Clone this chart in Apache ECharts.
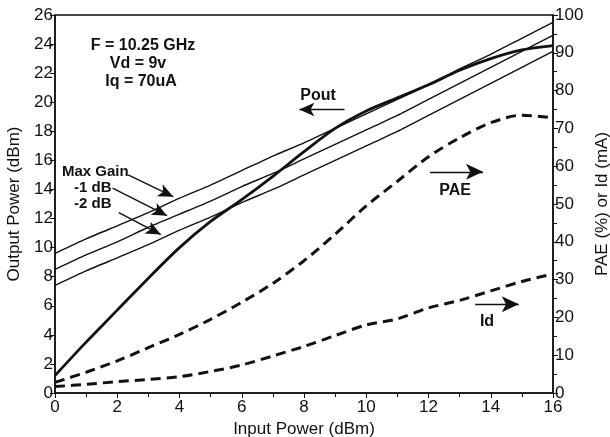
<!DOCTYPE html>
<html>
<head>
<meta charset="UTF-8">
<title>Pout / PAE vs Input Power</title>
<script src="https://cdn.jsdelivr.net/npm/echarts@6/dist/echarts.min.js"></script>
</head>
<body style="margin:0">
<div id="main" style="width:610px;height:437px;"></div>
<script>
// input power (dBm)
var inputPower = [0,1,2,3,4,5,6,7,8,9,10,11,12,13,14,15,16];
// output power (dBm), left axis
var pout     = [1.2,3.5,5.7,7.9,10.0,11.8,13.3,14.9,16.6,18.2,19.4,20.3,21.2,22.2,23.0,23.6,23.9];
var maxGain  = [9.6,10.6,11.5,12.4,13.4,14.3,15.3,16.3,17.2,18.2,19.2,20.2,21.2,22.3,23.3,24.4,25.5];
var gain1dB  = [8.5,9.5,10.4,11.4,12.3,13.2,14.2,15.1,16.1,17.1,18.1,19.1,20.2,21.3,22.4,23.5,24.6];
var gain2dB  = [7.4,8.4,9.3,10.2,11.2,12.1,13.1,14.0,15.0,16.0,17.0,18.0,19.1,20.2,21.3,22.4,23.5];
// PAE (%) and Id (mA), right axis
var pae = [2.8,5.5,8.5,12.0,15.5,19.5,24.0,29.0,35.0,42.0,49.5,56.0,62.5,67.5,71.5,73.5,72.8];
var id  = [1.7,2.3,3.0,3.6,4.3,5.7,7.4,9.8,12.3,15.2,18.0,19.6,22.5,24.5,27.0,29.5,31.5];
var leftTicks = [0,26,2];
var rightTicks = [0,100,10];

function pairs(ys){
  var out = [];
  for (var i = 0; i < inputPower.length; i++) out.push([inputPower[i], ys[i]]);
  return out;
}

var font = 'Liberation Sans, Arial, sans-serif';
var black = '#111';

function arrow(x1,y1,x2,y2){
  return [{coord:[x1,y1]},{coord:[x2,y2]}];
}
function note(txt,x,y,size,align){
  return {type:'text', x:x, y:y, style:{text:txt, font:'bold ' + size + 'px ' + font,
          fill:black, align:align || 'center', verticalAlign:'middle'}};
}

var chart = echarts.init(document.getElementById('main'));
var option = {
  animation: false,
  grid: {left:55, right:57, top:15, bottom:44, containLabel:false, outerBoundsMode:'none',
         show:true, borderColor:black, borderWidth:1.5},
  xAxis: {
    type:'value', min:0, max:16, interval:2,
    name:'Input Power (dBm)', nameLocation:'middle', nameGap:28,
    nameTextStyle:{fontFamily:font, fontSize:17, color:black},
    axisLine:{lineStyle:{color:black, width:1.5}},
    axisTick:{length:5, lineStyle:{color:black}},
    minorTick:{show:true, splitNumber:2, length:4, lineStyle:{color:black}},
    axisLabel:{fontFamily:font, fontSize:17, color:black, margin:6},
    splitLine:{show:false}
  },
  yAxis: [{
    type:'value', min:leftTicks[0], max:leftTicks[1], interval:leftTicks[2],
    name:'Output Power (dBm)', nameLocation:'middle', nameGap:28, nameRotate:90,
    nameTextStyle:{fontFamily:font, fontSize:17, color:black},
    axisLine:{show:true, lineStyle:{color:black, width:1.5}},
    axisTick:{length:5, lineStyle:{color:black}},
    axisLabel:{fontFamily:font, fontSize:17, color:black, margin:2},
    splitLine:{show:false}
  },{
    type:'value', position:'right', min:rightTicks[0], max:rightTicks[1], interval:rightTicks[2],
    name:'PAE (%) or Id (mA)', nameLocation:'middle', nameGap:40, nameRotate:90,
    nameTextStyle:{fontFamily:font, fontSize:17, color:black},
    axisLine:{show:true, lineStyle:{color:black, width:1.5}},
    axisTick:{length:5, lineStyle:{color:black}},
    minorTick:{show:true, splitNumber:2, length:4, lineStyle:{color:black}},
    axisLabel:{fontFamily:font, fontSize:17, color:black, margin:2},
    splitLine:{show:false}
  }],
  series: [
    {name:'Max Gain', type:'line', data:pairs(maxGain), symbol:'none', smooth:0.2,
     lineStyle:{color:black, width:1.4},
     markLine:{silent:true, symbol:['none','arrow'], symbolSize:[10,15],
       lineStyle:{color:black, width:1.4, type:'solid'}, label:{show:false},
       data:[arrow(2.35,15.0,3.8,13.5), arrow(1.85,14.1,3.6,12.2), arrow(2.05,12.4,3.4,10.9), arrow(9.3,19.5,7.85,19.5)]}},
    {name:'-1 dB', type:'line', data:pairs(gain1dB), symbol:'none', smooth:0.2,
     lineStyle:{color:black, width:1.4}},
    {name:'-2 dB', type:'line', data:pairs(gain2dB), symbol:'none', smooth:0.2,
     lineStyle:{color:black, width:1.4}},
    {name:'Pout', type:'line', data:pairs(pout), symbol:'none', smooth:0.3,
     lineStyle:{color:black, width:2.8}},
    {name:'PAE', type:'line', yAxisIndex:1, data:pairs(pae), symbol:'none', smooth:0.3,
     lineStyle:{color:black, width:3, type:[10,6]},
     markLine:{silent:true, symbol:['none','arrow'], symbolSize:[12,17],
       lineStyle:{color:black, width:1.4, type:'solid'}, label:{show:false},
       data:[arrow(12.05,58.5,13.75,58.5), arrow(13.5,23.5,14.9,23.5)]}},
    {name:'Id', type:'line', yAxisIndex:1, data:pairs(id), symbol:'none', smooth:0.3,
     lineStyle:{color:black, width:3, type:[10,6]}}
  ],
  graphic: [
    note('F = 10.25 GHz', 143, 46, 16),
    note('Vd = 9v', 138, 64, 16),
    note('Iq = 70uA', 141, 82, 16),
    note('Pout', 318, 96, 16),
    note('Max Gain', 62, 172, 15, 'left'),
    note('-1 dB', 74, 188, 15, 'left'),
    note('-2 dB', 74, 204, 15, 'left'),
    note('PAE', 455, 191, 16),
    note('Id', 487, 322, 16)
  ]
};
chart.setOption(option);
</script>
</body>
</html>
